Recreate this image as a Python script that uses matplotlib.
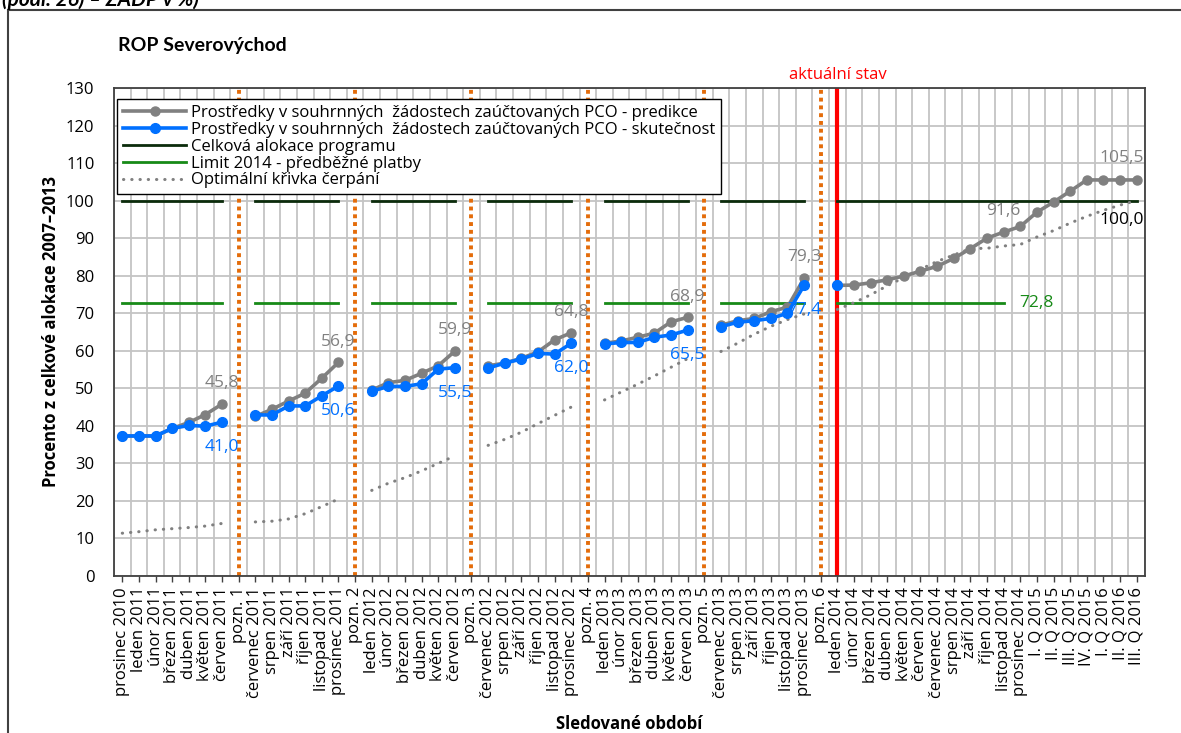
import numpy as np
from matplotlib import pyplot as plt
from matplotlib.patches import Rectangle

plt.rcParams['font.family'] = ['Open Sans', 'DejaVu Sans']

nan = np.nan

kategorie = ["prosinec 2010", "leden 2011", "únor 2011", "březen 2011", "duben 2011", "květen 2011", "červen 2011",
             "pozn. 1",
             "červenec 2011", "srpen 2011", "září 2011", "říjen 2011", "listopad 2011", "prosinec 2011",
             "pozn. 2",
             "leden 2012", "únor 2012", "březen 2012", "duben 2012", "květen 2012", "červen 2012",
             "pozn. 3",
             "červenec 2012", "srpen 2012", "září 2012", "říjen 2012", "listopad 2012", "prosinec 2012",
             "pozn. 4",
             "leden 2013", "únor 2013", "březen 2013", "duben 2013", "květen 2013", "červen 2013",
             "pozn. 5",
             "červenec 2013", "srpen 2013", "září 2013", "říjen 2013", "listopad 2013", "prosinec 2013",
             "pozn. 6",
             "leden 2014", "únor 2014", "březen 2014", "duben 2014", "květen 2014", "červen 2014",
             "červenec 2014", "srpen 2014", "září 2014", "říjen 2014", "listopad 2014", "prosinec 2014",
             "I. Q 2015", "II. Q 2015", "III. Q 2015", "IV. Q 2015", "I. Q 2016", "II. Q 2016", "III. Q 2016"]

predikce = [37.3, 37.3, 37.3, 39.3, 40.9, 43.0, 45.8, nan,
            42.5, 44.4, 46.6, 48.7, 52.7, 56.9, nan,
            49.5, 51.5, 52.1, 54.0, 56.0, 59.9, nan,
            56.0, 56.7, 58.0, 59.7, 62.9, 64.8, nan,
            62.0, 62.6, 63.6, 64.7, 67.7, 68.9, nan,
            66.8, 68.0, 68.6, 70.4, 71.6, 79.3, nan,
            77.4, 77.5, 78.1, 78.9, 79.9, 81.2, 82.5, 84.6, 87.2, 90.0, 91.6, 93.1,
            96.9, 99.6, 102.5, 105.5, 105.5, 105.5, 105.5]

skutecnost = [37.3, 37.3, 37.3, 39.3, 40.1, 39.9, 41.0, nan,
              42.9, 42.9, 45.3, 45.3, 48.0, 50.6, nan,
              49.2, 50.5, 50.5, 51.2, 55.1, 55.5, nan,
              55.4, 56.7, 57.8, 59.3, 59.1, 62.0, nan,
              61.8, 62.2, 62.2, 63.6, 64.2, 65.5, nan,
              66.4, 67.6, 68.0, 68.6, 70.0, 77.4, nan,
              77.4] + [nan] * 18

optimalni = [11.4, 11.8, 12.3, 12.6, 12.9, 13.3, 14.0, nan,
             14.4, 14.6, 15.2, 16.6, 18.5, 20.5, nan,
             22.8, 24.7, 26.2, 28.0, 30.0, 32.0, nan,
             34.8, 36.4, 38.3, 40.6, 42.8, 45.0, nan,
             46.9, 49.0, 51.1, 53.3, 55.6, 57.9, nan,
             59.8, 62.0, 64.4, 66.5, 68.3, 69.8, nan,
             71.0, 72.8, 74.9, 77.3, 79.5, 81.7, 83.8, 85.5, 87.2, 87.3, 87.9, 88.3,
             90.3, 92.0, 94.0, 95.8, 97.4, 98.8, 100.0]

alokace = [100.0 if not k.startswith("pozn") else nan for k in kategorie]
limit_2014 = [72.8 if not k.startswith("pozn") else nan for k in kategorie[:54]] + [nan] * 8

aktualni = "leden 2014"

x = np.arange(len(kategorie))
pred = np.array(predikce)
skut = np.array(skutecnost)
opt = np.array(optimalni)
alo = np.array(alokace)
lim = np.array(limit_2014)

def fmt(v):
    return f"{v:.1f}".replace(".", ",")

fig = plt.figure(figsize=(11.81, 7.33), dpi=100)
ax = fig.add_axes([0.0965, 0.2142, 0.8730, 0.6658])

# poznámky a aktuální stav
for i, k in enumerate(kategorie):
    if k.startswith("pozn"):
        ax.axvline(i, color="#E46C0A", lw=2.8, linestyle=(0, (1, 1)), zorder=1.5)
i_akt = kategorie.index(aktualni)
ax.axvline(i_akt, color="#FF0000", lw=3, zorder=1.6)
ax.text(i_akt, 1.027, "aktuální stav", color="#FF0000", fontsize=12, ha="center", va="center",
        transform=ax.get_xaxis_transform())

ax.plot(x, pred, color="#808080", lw=2.6, marker="o", ms=6.5, zorder=3,
        label="Prostředky v souhrnných  žádostech zaúčtovaných PCO - predikce")
ax.plot(x, skut, color="#0070FF", lw=2.6, marker="o", ms=7, zorder=4,
        label="Prostředky v souhrnných  žádostech zaúčtovaných PCO - skutečnost")
ax.plot(x, alo, color="#0B2B0B", lw=2, zorder=2, label="Celková alokace programu")
ax.plot(x, lim, color="#178A17", lw=2, zorder=2, label="Limit 2014 - předběžné platby")
ax.plot(x, opt, color="#808080", lw=2.2, linestyle=(0, (0.1, 2.6)), dash_capstyle="round", zorder=2.5,
        label="Optimální křivka čerpání")

# popisky hodnot
konce = [i for i in range(len(x)) if not np.isnan(skut[i]) and (i + 1 >= len(x) or np.isnan(skut[i + 1])) and i < 42]
for i in konce:
    ax.annotate(fmt(pred[i]), (x[i], pred[i]), xytext=(0, 15), textcoords="offset points",
                ha="center", va="center", color="#808080", fontsize=12.5, zorder=5)
    ax.annotate(fmt(skut[i]), (x[i], skut[i]), xytext=(0, -18), textcoords="offset points",
                ha="center", va="center", color="#0070FF", fontsize=12.5, zorder=5)
i916 = kategorie.index("listopad 2014")
ax.annotate(fmt(pred[i916]), (x[i916], pred[i916]), xytext=(0, 15), textcoords="offset points",
            ha="center", va="center", color="#808080", fontsize=12.5, zorder=5)
ax.annotate(fmt(pred[-1]), (x[-1], pred[-1]), xytext=(5, 16), textcoords="offset points",
            ha="right", va="center", color="#808080", fontsize=12.5, zorder=5)
ax.annotate(fmt(alo[-1]), (x[-1], alo[-1]), xytext=(5, -14), textcoords="offset points",
            ha="right", va="center", color="black", fontsize=12.5, zorder=5)
i_lim = int(np.where(~np.isnan(lim))[0][-1])
ax.annotate(fmt(lim[i_lim]), (x[i_lim], lim[i_lim]), xytext=(11, 0), textcoords="offset points",
            ha="left", va="center", color="#178A17", fontsize=12.5, zorder=5)

ax.set_xlim(-0.5, len(x) - 0.5)
ax.set_ylim(0, 130)
ax.set_yticks(np.arange(0, 131, 10))
ax.set_xticks(x)
ax.set_xticklabels(kategorie, rotation=90, fontsize=12)
ax.set_xticks(np.arange(-0.5, len(x), 1), minor=True)
ax.tick_params(axis="x", which="major", length=4, width=1, color="#404040", pad=4)
ax.tick_params(axis="x", which="minor", length=0)
ax.tick_params(axis="y", length=0, labelsize=12, pad=14)
ax.grid(axis="y", which="major", color="#C4C4C4", lw=1.3, zorder=0)
ax.grid(axis="x", which="minor", color="#C4C4C4", lw=1.3, zorder=0)
ax.set_axisbelow(True)
for s in ax.spines.values():
    s.set_color("#404040")
    s.set_linewidth(1.3)

ax.set_ylabel("Procento z celkové alokace 2007–2013", fontsize=12, fontweight="bold")
ax.yaxis.set_label_coords(-0.052, 0.5)
ax.set_xlabel("Sledované období", fontsize=12, fontweight="bold")
ax.xaxis.set_label_coords(0.5, -0.285)

leg = ax.legend(loc="upper left", bbox_to_anchor=(0.003, 0.977), borderaxespad=0, fontsize=12,
                handlelength=3.8, handletextpad=0.3, labelspacing=0.05, fancybox=False,
                framealpha=1, edgecolor="black", borderpad=0.35)
leg.get_frame().set_linewidth(1.0)
leg.set_zorder(6)

fig.text(0.0999, 0.9386, "ROP Severovýchod", fontsize=14, fontweight="bold", va="center",
         family=["Lato", "DejaVu Sans"])
fig.text(0.002, 0.9918, "(podl. 26) – ZADP v %)", fontsize=15, fontweight="bold", fontstyle="italic",
         va="baseline", family=["Lato", "DejaVu Sans"])
fig.patches.append(Rectangle((0.0068, -0.1), 1.2, 1.086, transform=fig.transFigure, fill=False,
                             ec="#404040", lw=1.5))

fig.savefig("out.png", dpi=100)
